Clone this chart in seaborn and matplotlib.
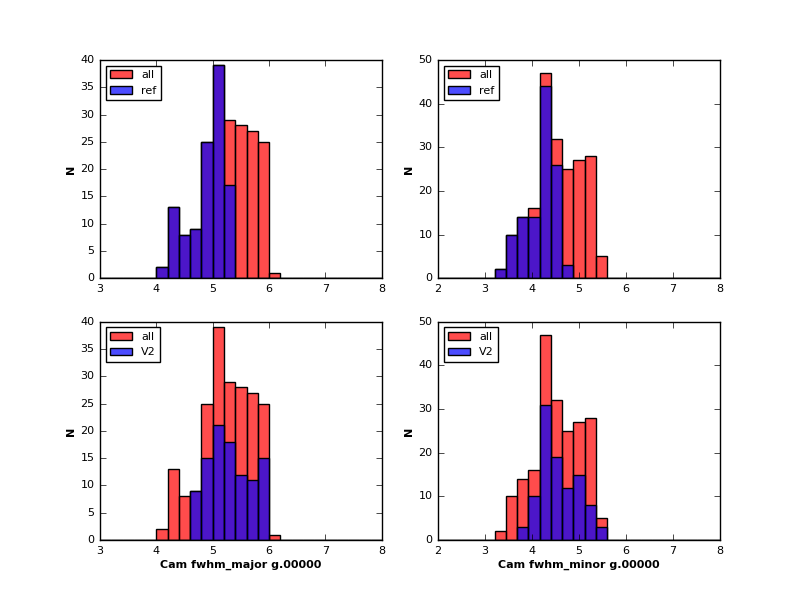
import numpy as np
import pandas as pd
import matplotlib
matplotlib.use("Agg")
import matplotlib.pyplot as plt
import seaborn as sns

# Bin definitions
major_edges = np.linspace(3, 8, 26)
minor_edges = np.linspace(2, 8, 26)

# Counts per bin (major: bins 3..8 step 0.2, minor: bins 2..8 step 0.24)
major_all = [0, 0, 0, 0, 0, 2, 13, 8, 9, 25, 39, 29, 28, 27, 25, 1, 0, 0, 0, 0, 0, 0, 0, 0, 0]
major_ref = [0, 0, 0, 0, 0, 2, 13, 8, 9, 25, 39, 17, 0, 0, 0, 0, 0, 0, 0, 0, 0, 0, 0, 0, 0]
major_v2  = [0, 0, 0, 0, 0, 0, 0, 0, 9, 15, 21, 18, 12, 11, 15, 0, 0, 0, 0, 0, 0, 0, 0, 0, 0]

minor_all = [0, 0, 0, 0, 0, 2, 10, 14, 16, 47, 32, 25, 27, 28, 5, 0, 0, 0, 0, 0, 0, 0, 0, 0, 0]
minor_ref = [0, 0, 0, 0, 0, 2, 10, 14, 14, 44, 26, 3, 0, 0, 0, 0, 0, 0, 0, 0, 0, 0, 0, 0, 0]
minor_v2  = [0, 0, 0, 0, 0, 0, 0, 3, 10, 31, 19, 12, 15, 8, 3, 0, 0, 0, 0, 0, 0, 0, 0, 0, 0]

plt.style.use("classic")
plt.rcParams["font.family"] = ["DejaVu Sans"]
plt.rcParams["font.size"] = 8

fig, axes = plt.subplots(2, 2, figsize=(8, 6), dpi=100)


def draw(ax, edges, all_counts, sub_counts, sub_label, xlim, ylim, yticks, xlabel=None):
    centers = (edges[:-1] + edges[1:]) / 2
    df = pd.DataFrame({"x": centers, "all": all_counts, "sub": sub_counts})
    bins = list(edges)
    sns.histplot(data=df, x="x", weights="all", bins=bins, ax=ax, color="red",
                 alpha=0.7, edgecolor="black", linewidth=1, label="all")
    sns.histplot(data=df, x="x", weights="sub", bins=bins, ax=ax, color="blue",
                 alpha=0.7, edgecolor="black", linewidth=1, label=sub_label)
    ax.set_xlim(*xlim)
    ax.set_ylim(*ylim)
    ax.set_yticks(list(yticks))
    ax.set_xticks(np.arange(xlim[0], xlim[1] + 1, 1))
    ax.tick_params(labelsize=8)
    ax.set_ylabel("N", fontsize=8, fontweight="bold", labelpad=3)
    ax.set_xlabel(xlabel if xlabel else "", fontsize=8, fontweight="bold", labelpad=3)
    ax.legend(loc="upper left", fontsize=8)


draw(axes[0, 0], major_edges, major_all, major_ref, "ref", (3, 8), (0, 40), range(0, 41, 5))
draw(axes[0, 1], minor_edges, minor_all, minor_ref, "ref", (2, 8), (0, 50), range(0, 51, 10))
draw(axes[1, 0], major_edges, major_all, major_v2, "V2", (3, 8), (0, 40), range(0, 41, 5),
     "Cam fwhm_major g.00000")
draw(axes[1, 1], minor_edges, minor_all, minor_v2, "V2", (2, 8), (0, 50), range(0, 51, 10),
     "Cam fwhm_minor g.00000")

fig.savefig("out.png", dpi=100)
